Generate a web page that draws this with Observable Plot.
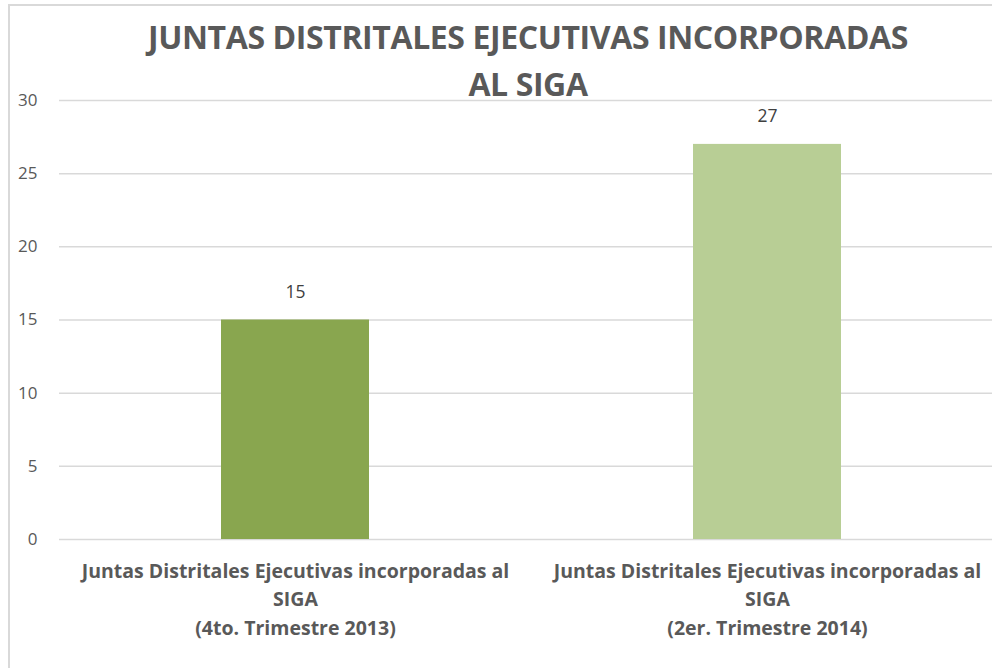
<!DOCTYPE html>
<html><head><meta charset="utf-8">
<script src="https://cdn.jsdelivr.net/npm/d3@7"></script>
<script src="https://cdn.jsdelivr.net/npm/@observablehq/plot@0.6"></script>
<style>
html,body{margin:0;padding:0;background:#fff;overflow:hidden;width:992px;height:668px;}
#wrap{position:relative;width:1012px;height:668px;}
#frame{position:absolute;left:8px;top:4px;width:1100px;height:800px;border:2px solid #d9d9d9;box-sizing:border-box;}
#title{position:absolute;left:128px;width:800px;top:13px;text-align:center;font-family:"Open Sans",sans-serif;font-weight:700;font-size:32px;line-height:47px;color:#595959;letter-spacing:-0.4px;}
#chart{position:absolute;left:0;top:0;}
</style></head>
<body>
<div id="wrap">
<div id="frame"></div>
<div id="chart"></div>
<div id="title">JUNTAS DISTRITALES EJECUTIVAS INCORPORADAS<br>AL SIGA</div>
</div>
<script>
const categories = ["4to. Trimestre 2013", "2er. Trimestre 2014"];
const values = [15, 27];
const colors = ["#89a64f", "#b8ce95"];
const tickLabels = [
  "Juntas Distritales Ejecutivas incorporadas al\nSIGA\n(4to. Trimestre 2013)",
  "Juntas Distritales Ejecutivas incorporadas al\nSIGA\n(2er. Trimestre 2014)"
];
const yTicks = [0, 5, 10, 15, 20, 25, 30];

const data = categories.map((c, i) => ({cat: c, value: values[i], color: colors[i]}));

const chart = Plot.plot({
  width: 1012,
  height: 668,
  marginTop: 100,
  marginBottom: 129,
  marginLeft: 59,
  marginRight: 9,
  style: {fontFamily: "'Open Sans', sans-serif", background: "transparent"},
  x: {domain: categories, paddingInner: 0.686, paddingOuter: 0.343, label: null},
  y: {domain: [0, 30], label: null},
  marks: [
    Plot.gridY(yTicks, {stroke: "#d9d9d9", strokeOpacity: 1, strokeWidth: 1.5}),
    Plot.barY(data, {x: "cat", y: "value", fill: "color"}),
    Plot.text(data, {x: "cat", y: "value", text: d => String(d.value), dy: -28, fontSize: 17.5, fill: "#404040"}),
    Plot.axisY({ticks: yTicks, tickSize: 0, tickPadding: 22, fontSize: 17, color: "#595959", label: null}),
    Plot.axisX({tickSize: 0, tickPadding: 18, fontSize: 19.5, fontWeight: "bold", color: "#595959", lineHeight: 1.46, tickFormat: (d) => tickLabels[categories.indexOf(d)], label: null})
  ]
});
document.getElementById("chart").appendChild(chart);
</script>
</body></html>
